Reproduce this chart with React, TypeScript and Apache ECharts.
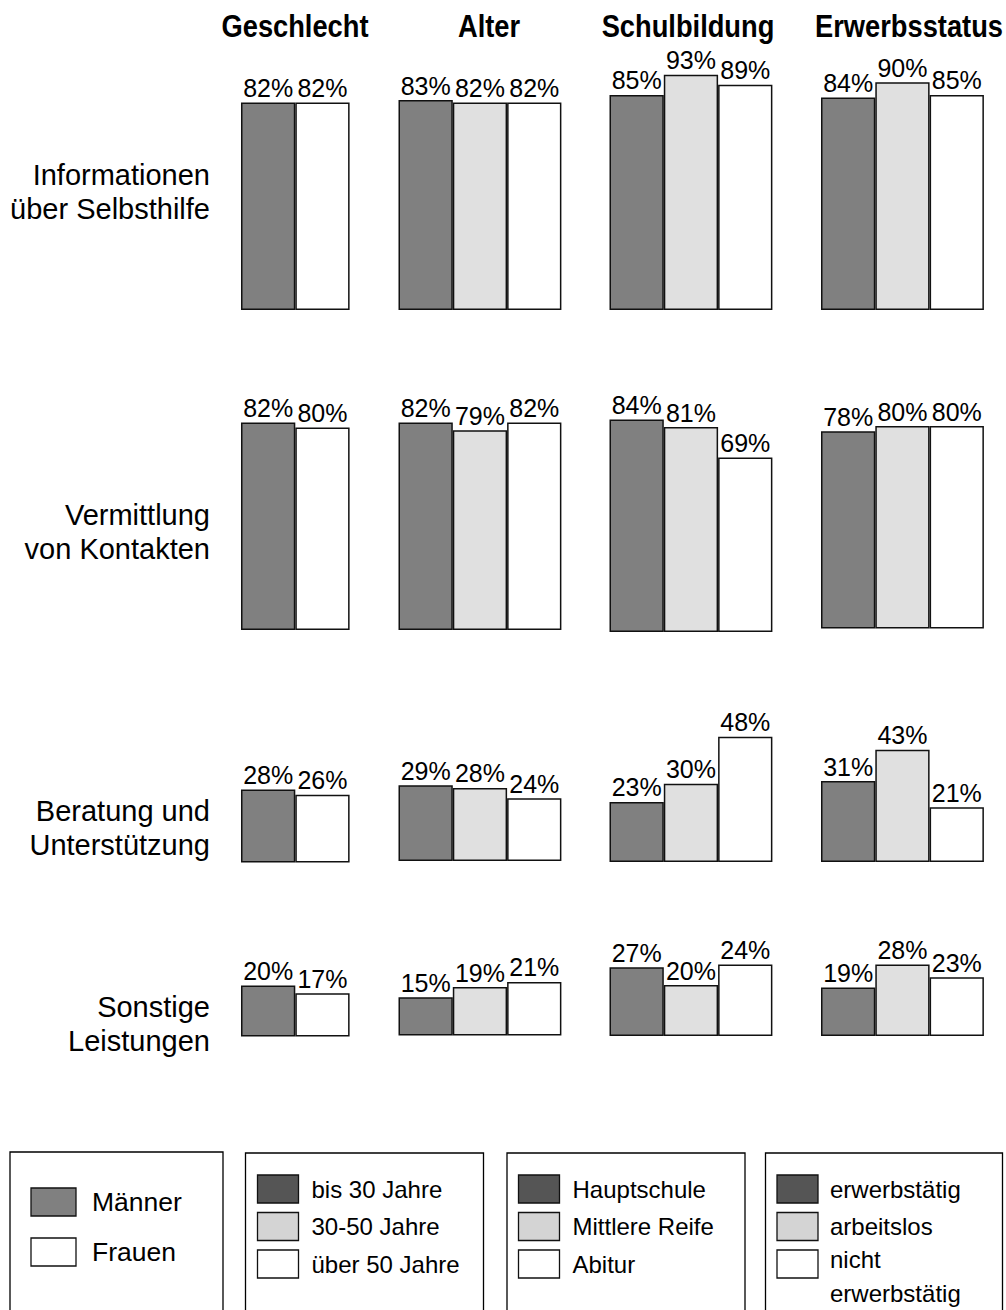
import React, { useEffect, useRef } from "react";
import * as echarts from "echarts";

// ---------- data ----------
const groupTitles = ["Geschlecht", "Alter", "Schulbildung", "Erwerbsstatus"];
const rowLabels = [
  "Informationen\nüber Selbsthilfe",
  "Vermittlung\nvon Kontakten",
  "Beratung und\nUnterstützung",
  "Sonstige\nLeistungen",
];

const geschlechtCats = ["Männer", "Frauen"];
const alterCats = ["bis 30 Jahre", "30-50 Jahre", "über 50 Jahre"];
const schulCats = ["Hauptschule", "Mittlere Reife", "Abitur"];
const erwerbCats = ["erwerbstätig", "arbeitslos", "nicht\nerwerbstätig"];

// rows: Informationen, Vermittlung, Beratung, Sonstige
const geschlechtValues = [
  [82, 82],
  [82, 80],
  [28, 26],
  [20, 17],
];
const alterValues = [
  [83, 82, 82],
  [82, 79, 82],
  [29, 28, 24],
  [15, 19, 21],
];
const schulValues = [
  [85, 93, 89],
  [84, 81, 69],
  [23, 30, 48],
  [27, 20, 24],
];
const erwerbValues = [
  [84, 90, 85],
  [78, 80, 80],
  [31, 43, 21],
  [19, 28, 23],
];
// in the original, the "Abitur / Sonstige" bar is drawn taller than its printed 24%
const schulSonstigeDrawn = [27, 20, 28];

// ---------- styling / layout ----------
const FONT = "'Liberation Sans', Arial, Helvetica, sans-serif";
const barColors3 = ["#808080", "#e0e0e0", "#ffffff"];
const barColors2 = ["#808080", "#ffffff"];
const legendColors3 = ["#555555", "#d4d4d4", "#ffffff"];
const legendColors2 = ["#808080", "#ffffff"];

const colLeft = [241, 398.5, 609.5, 821];
const barW = 54.3;
const rowScale = [2.53, 2.53, 2.61, 2.55];
const baselines = [
  [310, 310, 310, 310],
  [630, 630, 632, 628.5],
  [862.5, 861, 862, 862],
  [1036.5, 1035.5, 1036, 1036],
];
const titleX = [295, 489, 688, 909];
const rowLabelY = [192, 532, 828, 1024];

function buildOption() {
  const panelValues = [geschlechtValues, alterValues, schulValues, erwerbValues];
  const panelCats = [geschlechtCats, alterCats, schulCats, erwerbCats];
  const grids: any[] = [];
  const xAxes: any[] = [];
  const yAxes: any[] = [];
  const series: any[] = [];

  for (let r = 0; r < 4; r++) {
    for (let c = 0; c < 4; c++) {
      const idx = r * 4 + c;
      const vals = panelValues[c][r];
      const cats = panelCats[c];
      const colors = cats.length === 2 ? barColors2 : barColors3;
      const drawn = c === 2 && r === 3 ? schulSonstigeDrawn : vals;
      const h = rowScale[r] * 100;
      grids.push({
        left: colLeft[c],
        top: baselines[r][c] - h,
        width: barW * cats.length,
        height: h,
        containLabel: false,
      });
      xAxes.push({ gridIndex: idx, type: "category", data: cats, show: false });
      yAxes.push({ gridIndex: idx, type: "value", min: 0, max: 100, show: false });
      series.push({
        type: "bar",
        xAxisIndex: idx,
        yAxisIndex: idx,
        barCategoryGap: 0,
        barGap: 0,
        silent: true,
        itemStyle: { borderColor: "#111111", borderWidth: 1.5 },
        label: {
          show: true,
          position: "top",
          distance: 2,
          color: "#000",
          fontSize: 25,
          fontFamily: FONT,
        },
        data: drawn.map((v, i) => ({
          value: v,
          itemStyle: { color: colors[i] },
          label: { formatter: `${vals[i]}%` },
        })),
      });
    }
  }

  const graphics: any[] = [];
  // column titles (condensed bold look via horizontal scaling)
  groupTitles.forEach((t, i) => {
    graphics.push({
      type: "text",
      x: titleX[i],
      y: 26,
      scaleX: 0.88,
      style: {
        text: t,
        fill: "#000",
        fontSize: 31,
        fontWeight: "bold",
        fontFamily: FONT,
        align: "center",
        verticalAlign: "middle",
        textAlign: "center",
        textVerticalAlign: "middle",
      },
    });
  });
  // row labels
  rowLabels.forEach((t, i) => {
    graphics.push({
      type: "text",
      x: 210,
      y: rowLabelY[i],
      style: {
        text: t,
        fill: "#000",
        fontSize: 29,
        lineHeight: 34,
        fontFamily: FONT,
        align: "right",
        verticalAlign: "middle",
        textAlign: "right",
        textVerticalAlign: "middle",
      },
    });
  });

  // legend boxes
  const boxes = [
    { x: 10, w: 213, y: 1152 },
    { x: 245.5, w: 238, y: 1153 },
    { x: 507, w: 238, y: 1153 },
    { x: 765.5, w: 237, y: 1153 },
  ];
  boxes.forEach((b) => {
    graphics.push({
      type: "rect",
      shape: { x: b.x, y: b.y, width: b.w, height: 220 },
      style: { fill: "none", stroke: "#000", lineWidth: 1.3 },
    });
  });

  const textStyle = (text: string, x: number, y: number, size: number, lh = 34) => ({
    type: "text",
    x,
    y,
    style: {
      text,
      fill: "#000",
      fontSize: size,
      lineHeight: lh,
      fontFamily: FONT,
      align: "left",
      verticalAlign: "middle",
      textAlign: "left",
      textVerticalAlign: "middle",
    },
  });

  // box 1: Geschlecht
  geschlechtCats.forEach((cat, i) => {
    const y = 1188 + i * 50;
    graphics.push({
      type: "rect",
      shape: { x: 31, y, width: 45, height: 28 },
      style: { fill: legendColors2[i], stroke: "#111", lineWidth: 1.3 },
    });
    graphics.push(textStyle(cat, 92, y + 14, 26.5));
  });

  // boxes 2-4
  const legendSets = [alterCats, schulCats, erwerbCats];
  const swX = [257.5, 518.5, 777];
  const txX = [311.5, 572.5, 830];
  const swY = [1175, 1212.5, 1250];
  legendSets.forEach((cats, k) => {
    cats.forEach((cat, i) => {
      graphics.push({
        type: "rect",
        shape: { x: swX[k], y: swY[i], width: 41, height: 28 },
        style: { fill: legendColors3[i], stroke: "#111", lineWidth: 1.3 },
      });
      const lines = cat.split("\n").length;
      const cy = swY[i] + 14 + (lines > 1 ? -5 + ((lines - 1) * 34) / 2 : 0);
      graphics.push(textStyle(cat, txX[k], cy, 24, 34));
    });
  });

  return {
    animation: false,
    backgroundColor: "#ffffff",
    grid: grids,
    xAxis: xAxes,
    yAxis: yAxes,
    series,
    graphic: graphics,
  };
}

export default function App() {
  const ref = useRef<HTMLDivElement>(null);
  useEffect(() => {
    document.body.style.margin = "0";
    const chart = echarts.init(ref.current as HTMLDivElement, null, { renderer: "svg" });
    chart.setOption(buildOption());
    return () => chart.dispose();
  }, []);
  return <div ref={ref} style={{ width: 1006, height: 1310 }} />;
}
